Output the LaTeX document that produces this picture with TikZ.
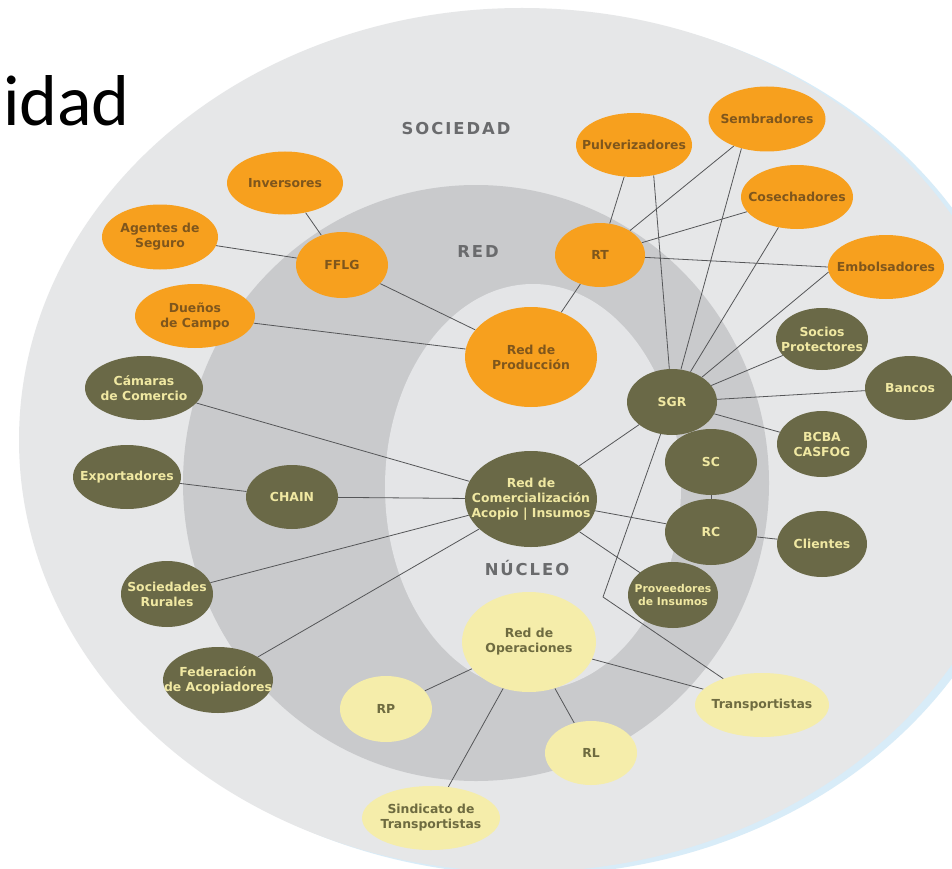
\documentclass[tikz,border=0pt]{standalone}
\usepackage{fontspec}
\setmainfont{DejaVu Sans}
\newfontfamily\titlefont{Carlito}
\newfontfamily\zonefont[LetterSpace=12]{DejaVu Sans}
\usetikzlibrary{shapes.geometric}
\definecolor{bgout}{HTML}{E6E7E8}
\definecolor{bgshadow}{HTML}{D8ECF8}
\definecolor{bgring}{HTML}{C9CACC}
\definecolor{bgcore}{HTML}{E4E5E7}
\definecolor{orangeC}{HTML}{F7A01E}
\definecolor{oliveC}{HTML}{6A6947}
\definecolor{yellowC}{HTML}{F5EDAA}
\definecolor{otextC}{HTML}{7F561C}
\definecolor{ltextC}{HTML}{F0E8A2}
\definecolor{ytextC}{HTML}{6E6B40}
\definecolor{zoneC}{HTML}{6A6B6D}
\definecolor{connC}{HTML}{555658}
\newcommand\mynodefont{\bfseries\fontsize{12.4}{15}\selectfont}
\newcommand\mysmallfont{\bfseries\fontsize{10.8}{13.3}\selectfont}
\newcommand\myzonefont{\zonefont\bfseries\fontsize{16.4}{18}\selectfont}
\pgfdeclarelayer{bg}
\pgfdeclarelayer{edges}
\pgfsetlayers{bg,edges,main}
\tikzset{
  onode/.style 2 args={ellipse, fill=orangeC, minimum width=#1pt, minimum height=#2pt, inner sep=0pt},
  gnode/.style 2 args={ellipse, fill=oliveC, minimum width=#1pt, minimum height=#2pt, inner sep=0pt},
  ynode/.style 2 args={ellipse, fill=yellowC, minimum width=#1pt, minimum height=#2pt, inner sep=0pt},
  otxt/.style={font=\mynodefont, text=otextC, align=center, inner sep=0pt},
  gtxt/.style={font=\mynodefont, text=ltextC, align=center, inner sep=0pt},
  gsmall/.style={font=\mysmallfont, text=ltextC, align=center, inner sep=0pt},
  ytxt/.style={font=\mynodefont, text=ytextC, align=center, inner sep=0pt},
  zone/.style={font=\myzonefont, text=zoneC, inner sep=0pt},
  conn/.style={draw=connC, line width=0.8pt},
}
\begin{document}
\begin{tikzpicture}[x=1pt,y=-1pt]
\useasboundingbox (0,0) rectangle (952,869);
\begin{pgfonlayer}{bg}
  \fill[white] (0,0) rectangle (952,869);
  \fill[bgshadow] (530,443) ellipse [x radius=503pt, y radius=432pt];
  \fill[bgout] (522,440) ellipse [x radius=503pt, y radius=432pt];
  \fill[bgring] (476,483) ellipse [x radius=293pt, y radius=298pt];
  \fill[bgcore] (533,487) ellipse [x radius=148pt, y radius=203pt];
\end{pgfonlayer}

% title fragment and zone labels
\node[anchor=base west, inner sep=0pt, font=\titlefont\fontsize{72}{80}\selectfont] (title) at (3,126) {idad};
\node[zone] (zsoc) at (456,129) {SOCIEDAD};
\node[zone] (zred) at (478,252) {RED};
\node[zone] (znuc) at (527,568) {NÚCLEO};

% orange nodes
\node[onode={116}{63}, label={[otxt]center:{Inversores}}] (inv) at (285,183) {};
\node[onode={116}{65}, label={[otxt]center:{Agentes de\\Seguro}}] (ags) at (160,237) {};
\node[onode={92}{66}, label={[otxt]center:{FFLG}}] (fflg) at (342,265) {};
\node[onode={116}{64}, label={[otxt]center:{Pulverizadores}}] (pulv) at (634,145) {};
\node[onode={117}{65}, label={[otxt]center:{Sembradores}}] (semb) at (767,119) {};
\node[onode={112}{64}, label={[otxt]center:{Cosechadores}}] (cos) at (797,197) {};
\node[onode={90}{64}, label={[otxt]center:{RT}}] (rt) at (600,255) {};
\node[onode={116}{64}, label={[otxt]center:{Embolsadores}}] (emb) at (886,267) {};
\node[onode={120}{64}, label={[otxt]center:{Dueños\\de Campo}}] (due) at (195,316) {};
\node[onode={132}{100}, label={[otxt]center:{Red de\\Producción}}] (rdp) at (531,357) {};

% olive nodes
\node[gnode={118}{64}, label={[gtxt]center:{Cámaras\\de Comercio}}] (cam) at (144,388) {};
\node[gnode={108}{64}, label={[gtxt]center:{Exportadores}}] (exp) at (127,477) {};
\node[gnode={92}{64}, label={[gtxt]center:{CHAIN}}] (chain) at (292,497) {};
\node[gnode={92}{66}, label={[gtxt]center:{Sociedades\\Rurales}}] (soc) at (167,594) {};
\node[gnode={110}{66}, label={[gtxt]center:{Federación\\de Acopiadores}}] (fed) at (218,680) {};
\node[gnode={132}{96}, label={[gtxt]center:{Red de\\Comercialización\\Acopio | Insumos}}] (rdc) at (531,499) {};
\node[gnode={90}{66}, label={[gtxt]center:{SGR}}] (sgr) at (672,402) {};
\node[gnode={92}{62}, label={[gtxt]center:{Socios\\Protectores}}] (sp) at (822,339) {};
\node[gnode={90}{64}, label={[gtxt]center:{Bancos}}] (ban) at (910,388) {};
\node[gnode={90}{66}, label={[gtxt]center:{BCBA\\CASFOG}}] (bcba) at (822,444) {};
\node[gnode={92}{66}, label={[gtxt]center:{SC}}] (sc) at (711,462) {};
\node[gnode={92}{66}, label={[gtxt]center:{RC}}] (rc) at (711,532) {};
\node[gnode={90}{66}, label={[gtxt]center:{Clientes}}] (cli) at (822,544) {};
\node[gnode={90}{66}, label={[gsmall]center:{Proveedores\\de Insumos}}] (prov) at (673,595) {};

% yellow nodes
\node[ynode={134}{100}, label={[ytxt]center:{Red de\\Operaciones}}] (rdo) at (529,642) {};
\node[ynode={92}{66}, label={[ytxt]center:{RP}}] (rp) at (386,709) {};
\node[ynode={92}{64}, label={[ytxt]center:{RL}}] (rl) at (591,753) {};
\node[ynode={134}{64}, label={[ytxt]center:{Transportistas}}] (tra) at (762,705) {};
\node[ynode={138}{64}, label={[ytxt]center:{Sindicato de\\Transportistas}}] (sin) at (431,818) {};

\coordinate (bend) at (603,597);

\begin{pgfonlayer}{edges}
  \draw[conn] (inv) -- (fflg);
  \draw[conn] (ags) -- (fflg);
  \draw[conn] (fflg) -- (rdp);
  \draw[conn] (due) -- (rdp);
  \draw[conn] (rt) -- (rdp);
  \draw[conn] (rt) -- (pulv);
  \draw[conn] (rt) -- (semb);
  \draw[conn] (rt) -- (cos);
  \draw[conn] (rt) -- (emb.west);
  \draw[conn] (pulv.-57) -- (sgr);
  \draw[conn] (semb.-131) -- (sgr);
  \draw[conn] (cos) -- (sgr);
  \draw[conn] (emb.185) -- (sgr);
  \draw[conn] (sp) -- (sgr);
  \draw[conn] (ban) -- (sgr);
  \draw[conn] (bcba) -- (sgr);
  \draw[conn] (sgr) -- (sc);
  \draw[conn] (sc) -- (rc);
  \draw[conn] (rc) -- (cli);
  \draw[conn] (rdc) -- (sgr);
  \draw[conn] (rdc) -- (rc);
  \draw[conn] (rdc) -- (prov);
  \draw[conn] (cam) -- (rdc);
  \draw[conn] (chain) -- (rdc);
  \draw[conn] (exp) -- (chain);
  \draw[conn] (soc) -- (rdc);
  \draw[conn] (fed) -- (rdc);
  \draw[conn] (sgr) -- (bend) -- (tra);
  \draw[conn] (rdo) -- (rp);
  \draw[conn] (rdo) -- (sin);
  \draw[conn] (rdo) -- (rl);
  \draw[conn] (rdo) -- (tra);
\end{pgfonlayer}
\end{tikzpicture}
\end{document}
